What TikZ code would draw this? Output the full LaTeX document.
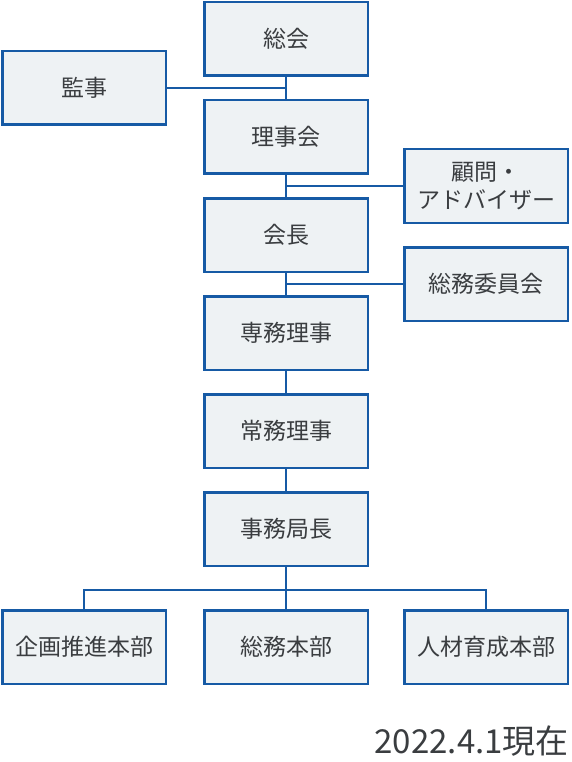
\documentclass[tikz,border=0pt]{standalone}
\usepackage{fontspec}
\setmainfont{Noto Sans CJK JP}
\usepackage{tikz}
\usetikzlibrary{positioning, calc}
\definecolor{orgBlue}{HTML}{165AA5}
\definecolor{orgFill}{HTML}{EEF2F4}
\definecolor{orgText}{HTML}{3A3D40}

\begin{document}
\begin{tikzpicture}[
  x=1pt, y=-1pt,
  font=\fontsize{23pt}{28pt}\selectfont, node distance=22pt,
  orgbox/.style={draw=orgBlue, line width=2.5pt, fill=orgFill, text=orgText,
                 minimum width=163.5pt, minimum height=73.5pt, align=center, inner sep=0pt},
  ln/.style={draw=orgBlue, line width=2.2pt},
]
\useasboundingbox (0,0) rectangle (572,762);

\node[orgbox] (soukai) at (286,39) {総会};
\node[orgbox, below=of soukai] (rijikai) {理事会};
\node[orgbox, below=of rijikai] (kaicho) {会長};
\node[orgbox, below=of kaicho] (senmu) {専務理事};
\node[orgbox, below=of senmu] (jomu) {常務理事};
\node[orgbox, below=of jomu] (jimu) {事務局長};
\node[orgbox, below=42pt of jimu] (soumuhb) {総務本部};
\node[orgbox, left=36pt of soumuhb] (kikaku) {企画推進本部};
\node[orgbox, right=34pt of soumuhb] (jinzai) {人材育成本部};

\coordinate (j1) at ($(soukai.south)!0.5!(rijikai.north)$);
\coordinate (j2) at ($(rijikai.south)!0.5!(kaicho.north)$);
\coordinate (j3) at ($(kaicho.south)!0.5!(senmu.north)$);
\coordinate (bus) at ($(jimu.south)!0.55!(soumuhb.north)$);

\node[orgbox, left=119pt of j1] (kanji) {監事};
\node[orgbox, right=117pt of j2] (komon) {顧問・\\アドバイザー};
\node[orgbox, right=117pt of j3] (iinkai) {総務委員会};

\foreach \a/\b in {soukai/rijikai, rijikai/kaicho, kaicho/senmu, senmu/jomu, jomu/jimu, jimu/soumuhb}
  \draw[ln] (\a) -- (\b);
\draw[ln] (kanji) -- (j1);
\draw[ln] (j2) -- (komon);
\draw[ln] (j3) -- (iinkai);
\draw[ln] (kikaku.north) |- (bus) -| (jinzai.north);

\node[anchor=south east, inner sep=0pt, text=orgText, font=\fontsize{33pt}{36pt}\selectfont]
  (asof) at (569,757) {2022.4.1現在};
\end{tikzpicture}
\end{document}
